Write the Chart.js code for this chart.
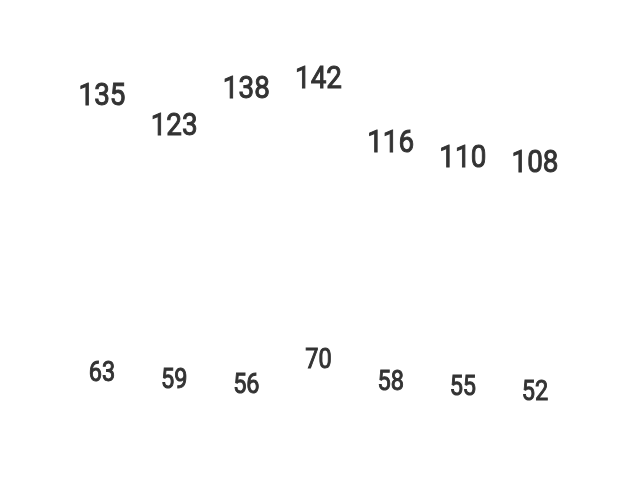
<!DOCTYPE html>
<html>
<head>
<meta charset="utf-8">
<script src="https://cdn.jsdelivr.net/npm/chart.js@4/dist/chart.umd.min.js"></script>
<style>
  html, body { margin: 0; padding: 0; background: #fff; }
  #wrap { width: 632px; height: 490px; }
</style>
</head>
<body>
<div id="wrap"><canvas id="chart"></canvas></div>
<script>
// data
const categories = ['1', '2', '3', '4', '5', '6', '7'];
const upperValues = [135, 123, 138, 142, 116, 110, 108];
const lowerValues = [63, 59, 56, 70, 58, 55, 52];

// draws each value as text at its (invisible) point, slightly condensed
const valueLabels = {
  id: 'valueLabels',
  afterDatasetsDraw(chart) {
    const ctx = chart.ctx;
    chart.data.datasets.forEach((ds, i) => {
      const meta = chart.getDatasetMeta(i);
      meta.data.forEach((pt, j) => {
        ctx.save();
        ctx.translate(pt.x, pt.y);
        ctx.scale(0.87, 1);
        ctx.font = ds.labelFont;
        ctx.textAlign = 'center';
        ctx.textBaseline = 'middle';
        ctx.fillStyle = '#333333';
        ctx.strokeStyle = '#333333';
        ctx.lineWidth = 1;
        ctx.fillText(String(ds.data[j]), 0, 0);
        ctx.strokeText(String(ds.data[j]), 0, 0);
        ctx.restore();
      });
    });
  }
};

new Chart(document.getElementById('chart'), {
  type: 'line',
  data: {
    labels: categories,
    datasets: [
      {
        label: 'upper',
        data: upperValues,
        yAxisID: 'y',
        showLine: false,
        pointRadius: 0,
        labelFont: '32px Roboto'
      },
      {
        label: 'lower',
        data: lowerValues,
        yAxisID: 'y2',
        showLine: false,
        pointRadius: 0,
        labelFont: '27px Roboto'
      }
    ]
  },
  options: {
    responsive: true,
    maintainAspectRatio: false,
    animation: false,
    layout: { padding: { left: 102, right: 97, top: 0, bottom: 0 } },
    plugins: {
      legend: { display: false },
      tooltip: { enabled: false }
    },
    scales: {
      x: { display: false },
      y: { display: false, min: -24, max: 174.4 },
      y2: { display: false, min: -2.5, max: 274.3 }
    }
  },
  plugins: [valueLabels]
});
</script>
</body>
</html>
